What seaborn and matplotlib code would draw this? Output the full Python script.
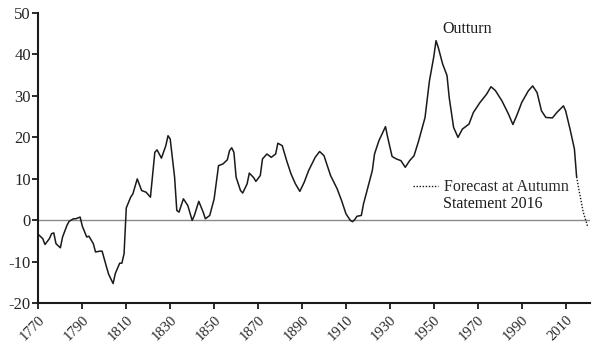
import matplotlib
matplotlib.use("Agg")
import matplotlib.pyplot as plt
import seaborn as sns
import pandas as pd

# outturn
years = [1770, 1772, 1773, 1775, 1776, 1777, 1778, 1780, 1781, 1783, 1784, 1786, 1787, 1789,
         1790, 1792, 1793, 1795, 1796, 1798, 1799, 1801, 1802, 1804, 1805, 1807, 1808, 1809,
         1810, 1812, 1813, 1815, 1817, 1819, 1821, 1823, 1824, 1826, 1828, 1829, 1830, 1832,
         1833, 1834, 1836, 1838, 1840, 1841, 1843, 1845, 1846, 1848, 1850, 1852, 1854, 1856,
         1857, 1858, 1859, 1860, 1862, 1863, 1865, 1866, 1868, 1869, 1871, 1872, 1874, 1876,
         1878, 1879, 1881, 1883, 1885, 1887, 1889, 1891, 1893, 1896, 1898, 1900, 1901, 1903,
         1906, 1908, 1910, 1912, 1913, 1914, 1915, 1917, 1918, 1920, 1922, 1923, 1925, 1928,
         1929, 1931, 1933, 1935, 1937, 1939, 1941, 1943, 1946, 1948, 1950, 1951, 1952, 1954,
         1956, 1957, 1959, 1961, 1963, 1966, 1968, 1971, 1974, 1976, 1978, 1981, 1984, 1986,
         1988, 1990, 1993, 1995, 1997, 1999, 2001, 2004, 2006, 2009, 2010, 2012, 2014, 2015]
outturn = [-3.4, -4.4, -5.8, -4.4, -3.2, -3.0, -5.6, -6.6, -4.0, -1.2, -0.2, 0.4, 0.4, 0.8,
           -1.4, -4.0, -3.8, -5.6, -7.6, -7.4, -7.4, -11.2, -13.0, -15.2, -12.8, -10.3, -10.3, -8.0,
           3.0, 5.6, 6.4, 10.0, 7.2, 6.8, 5.6, 16.4, 17.0, 15.0, 18.0, 20.4, 19.6, 10.4,
           2.4, 2.0, 5.2, 3.6, 0.0, 1.2, 4.6, 2.0, 0.4, 1.2, 5.2, 13.2, 13.6, 14.6,
           16.8, 17.5, 16.4, 10.4, 7.2, 6.6, 8.8, 11.4, 10.3, 9.4, 10.8, 14.8, 16.0, 15.2,
           16.0, 18.6, 18.0, 14.4, 11.2, 8.8, 7.0, 9.2, 12.0, 15.2, 16.6, 15.6, 14.0, 10.8,
           7.6, 4.8, 1.6, 0.0, -0.3, 0.2, 1.0, 1.2, 4.0, 8.0, 12.0, 16.0, 19.2, 22.6,
           20.0, 15.4, 14.8, 14.4, 12.8, 14.4, 15.6, 19.0, 24.8, 33.6, 39.5, 43.3, 41.7, 37.7,
           34.9, 29.6, 22.4, 20.0, 22.0, 23.2, 26.0, 28.4, 30.4, 32.2, 31.3, 28.8, 25.6, 23.1,
           25.6, 28.4, 31.2, 32.4, 30.8, 26.4, 24.8, 24.7, 26.0, 27.6, 26.4, 22.0, 17.2, 10.5]

# forecast at Autumn Statement 2016
fc_years = [2015, 2016, 2017, 2018, 2019, 2020]
forecast = [10.5, 7.5, 4.8, 2.0, 0.3, -1.4]

x_ticks = list(range(1770, 2011, 20))
y_ticks = list(range(-20, 51, 10))

sns.set_theme(style="ticks")
plt.rcParams["font.family"] = ["Liberation Serif", "DejaVu Serif"]
plt.rcParams["axes.unicode_minus"] = False

df = pd.DataFrame({"year": years, "value": outturn})
df_fc = pd.DataFrame({"year": fc_years, "value": forecast})

fig = plt.figure(figsize=(6, 3.57), dpi=100)
ax = fig.add_axes([0.064, 0.150, 0.919, 0.814])

ax.axhline(0, color="#8a8a8a", lw=1.0, zorder=1)
sns.lineplot(data=df, x="year", y="value", ax=ax, color="#1a1a1a", lw=1.1, sort=False)
sns.lineplot(data=df_fc, x="year", y="value", ax=ax, color="#1a1a1a", lw=1.0,
             linestyle=(0, (1, 1.2)), sort=False, label="Forecast at Autumn")

ax.set_xlim(1770, 2021)
ax.set_ylim(-20, 50)
ax.set_xticks(x_ticks)
ax.set_yticks(y_ticks)
ax.set_xticklabels([str(t) for t in x_ticks], rotation=45, ha="right", rotation_mode="anchor",
                   fontsize=10.5)
ax.set_yticklabels([str(t) for t in y_ticks], fontsize=12)
ax.set_xlabel("")
ax.set_ylabel("")
ax.tick_params(axis="both", direction="out", length=4, width=1.3, color="#1a1a1a", pad=1.5)
ax.tick_params(axis="x", pad=3)
sns.despine(ax=ax)
for s in ["left", "bottom"]:
    ax.spines[s].set_linewidth(1.5)
    ax.spines[s].set_color("#1a1a1a")

ax.text(1965, 46.2, "Outturn", fontsize=11.5, ha="center", va="center", color="#1a1a1a")
ax.legend(loc="center left", bbox_to_anchor=(0.679, 0.40), frameon=False, fontsize=11.5,
          handlelength=1.6, handletextpad=0.35, borderpad=0, borderaxespad=0)
ax.text(1954, 4.0, "Statement 2016", fontsize=11.5, ha="left", va="center", color="#1a1a1a")

fig.savefig("out.png", dpi=100)
